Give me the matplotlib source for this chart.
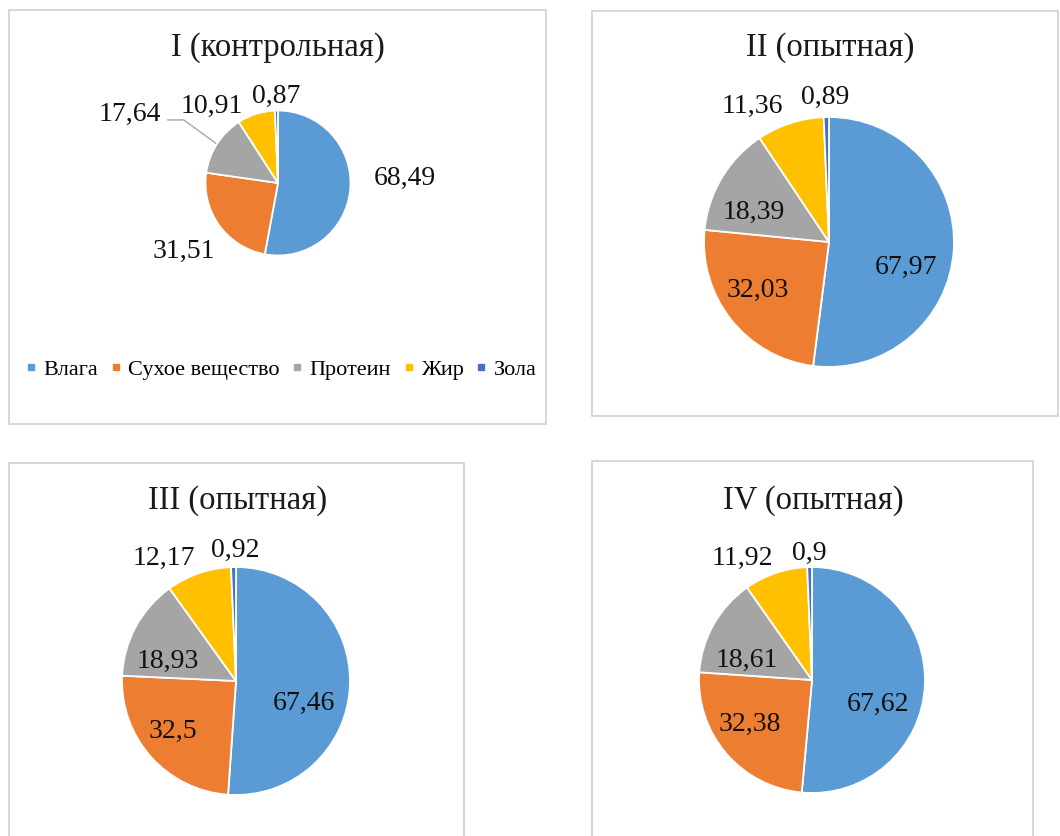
import matplotlib
matplotlib.use("Agg")
import matplotlib.pyplot as plt
from matplotlib.lines import Line2D
from matplotlib.patches import Rectangle

plt.rcParams['font.family'] = ['Liberation Serif', 'DejaVu Serif']

# ---- data ----
components = ["Влага", "Сухое вещество", "Протеин", "Жир", "Зола"]
groups = ["I (контрольная)", "II (опытная)", "III (опытная)", "IV (опытная)"]
vals_I = [68.49, 31.51, 17.64, 10.91, 0.87]
vals_II = [67.97, 32.03, 18.39, 11.36, 0.89]
vals_III = [67.46, 32.5, 18.93, 12.17, 0.92]
vals_IV = [67.62, 32.38, 18.61, 11.92, 0.9]

colors = ["#5B9BD5", "#ED7D31", "#A5A5A5", "#FFC000", "#4472C4"]

# ---- layout (pixels) ----
W, H = 1060, 836
frames = [(9, 10, 546, 424), (592, 11, 1058, 416), (9, 463, 464, 845), (592, 461, 1033, 845)]
pies = [(278, 183, 72.5), (829, 242, 125), (236, 681, 114), (812, 680, 113)]
titles_xy = [(278, 48), (830, 48), (238, 501), (813, 501)]
# label centres in units of pie radius, relative to pie centre
label_pos = [
    [(1.75, 0.10), (-1.30, -0.90), (-2.04, 0.99), (-0.92, 1.10), (-0.02, 1.24)],
    [(0.62, -0.18), (-0.57, -0.36), (-0.60, 0.26), (-0.61, 1.11), (-0.03, 1.18)],
    [(0.60, -0.17), (-0.55, -0.42), (-0.60, 0.20), (-0.63, 1.10), (-0.01, 1.17)],
    [(0.58, -0.19), (-0.55, -0.37), (-0.58, 0.20), (-0.62, 1.10), (-0.02, 1.15)],
]

fig = plt.figure(figsize=(W / 100, H / 100), dpi=100)
fig.patch.set_facecolor("white")


def fx(x):
    return x / W


def fy(y):
    return 1 - y / H


# panel frames
for (x0, y0, x1, y1) in frames:
    fig.patches.append(Rectangle((fx(x0), fy(y1)), fx(x1) - fx(x0), fy(y0) - fy(y1),
                                 transform=fig.transFigure, fill=False,
                                 edgecolor="#d4d4d4", linewidth=1.3))

all_vals = [vals_I, vals_II, vals_III, vals_IV]


def fmt(v):
    return f"{v:g}".replace(".", ",")


for k, vals in enumerate(all_vals):
    cx, cy, r = pies[k]
    ax = fig.add_axes([fx(cx - r), fy(cy + r), 2 * r / W, 2 * r / H])
    ax.pie(vals, colors=colors, startangle=90, counterclock=False, radius=1,
           wedgeprops=dict(edgecolor="white", linewidth=1.3))
    ax.set_xlim(-1, 1)
    ax.set_ylim(-1, 1)
    ax.set_aspect("equal")
    ax.axis("off")
    for v, (lx, ly) in zip(vals, label_pos[k]):
        ax.text(lx, ly, fmt(v), ha="center", va="center_baseline",
                fontsize=20, color="#111111", clip_on=False)
    tx, ty = titles_xy[k]
    fig.text(fx(tx), fy(ty), groups[k], ha="center", va="center", fontsize=23.5,
             color="#1a1a1a")

# leader line for the protein label on the first chart
ax0 = fig.axes[0]
ax0.plot([-0.86, -1.30, -1.52], [0.55, 0.87, 0.87], color="#a6a6a6",
         linewidth=1.0, clip_on=False)

# legend on the first chart
handles = [Line2D([], [], marker="s", linestyle="none", markersize=4.5,
                  markerfacecolor=c, markeredgecolor=c) for c in colors]
fig.legend(handles, components, loc="center", bbox_to_anchor=(fx(281), fy(370)),
           ncol=5, frameon=False, fontsize=16, handlelength=0.5,
           handletextpad=0.3, columnspacing=0.55, borderaxespad=0)

fig.savefig("out.png", dpi=100, facecolor="white")
